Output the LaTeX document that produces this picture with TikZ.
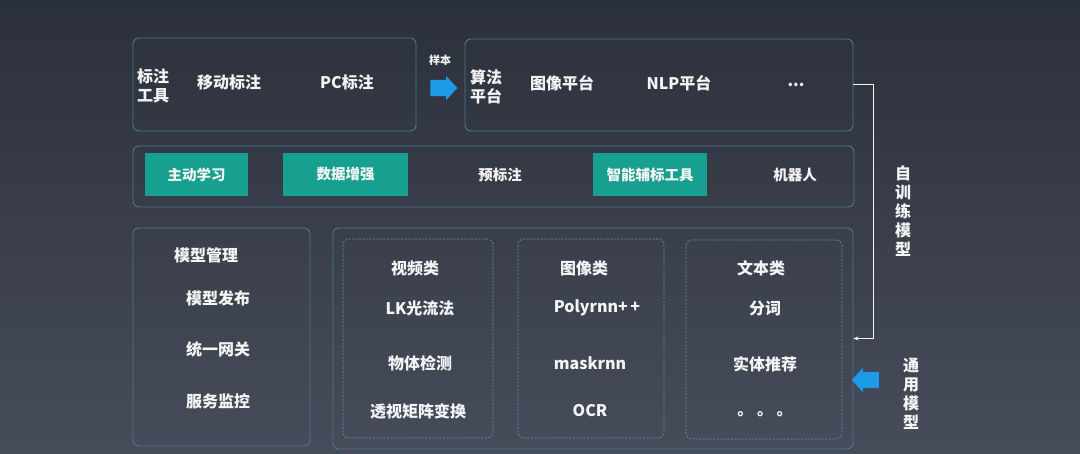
\documentclass[tikz,border=0pt]{standalone}
\usepackage{fontspec}
\setmainfont{Noto Sans CJK SC}
\usetikzlibrary{arrows.meta,positioning,shapes.arrows}
\definecolor{bgtop}{HTML}{2B313B}
\definecolor{bgbot}{HTML}{474C5A}
\definecolor{frame}{HTML}{4F7598}
\definecolor{dashframe}{HTML}{6F8DAA}
\definecolor{tealfill}{HTML}{17A08F}
\definecolor{arrowblue}{HTML}{1D9BE6}
\definecolor{label}{HTML}{F4F4F4}
\tikzset{
  panel/.style={
    rectangle,
    rounded corners=6pt,
    draw=frame,
    line width=0.9pt
  },
  subpanel/.style={
    rectangle,
    rounded corners=6pt,
    draw=dashframe,
    dashed,
    dash pattern=on 2pt off 1.5pt,
    line width=0.6pt
  },
  tagbox/.style={
    rectangle,
    fill=tealfill,
    minimum height=43pt,
    text=label,
    font=\bfseries\fontsize{14.5}{16}\selectfont
  },
  item/.style={
    text=label,
    font=\bfseries\fontsize{16}{18}\selectfont,
    inner sep=0pt
  },
  stack/.style={
    item,
    align=center,
    font=\bfseries\fontsize{16}{19}\selectfont
  },
  fatarrow/.style={
    single arrow,
    fill=arrowblue,
    minimum height=27pt,
    minimum width=23pt,
    single arrow head extend=4pt,
    single arrow tip angle=95,
    inner sep=8pt
  },
  feedline/.style={-{Stealth[length=5pt,width=4pt]},draw=label,line width=1pt}
}
\begin{document}
\begin{tikzpicture}[x=1pt,y=-1pt]
  \useasboundingbox (0,0) rectangle (1080,454);
  \shade[top color=bgtop,bottom color=bgbot] (0,0) rectangle (1080,454);

  \node[panel, minimum width=283pt, minimum height=93pt] (tools) at (274.5,84.5) {};
  \node[stack] (toolstitle) at (153,86) {标注\\工具};
  \node[item] (mobile) at (229,82) {移动标注};
  \node[item] (pc) at (347,82) {PC标注};

  \node[fatarrow] (samplearrow) at (440,88) {};
  \node[item, font=\bfseries\fontsize{11}{13}\selectfont] (sample) at (440,60) {样本};

  \node[panel, minimum width=388pt, minimum height=92pt] (platform) at (659,85) {};
  \node[stack] (platformtitle) at (486,87) {算法\\平台};
  \node[item] (imageplat) at (562,83) {图像平台};
  \node[item] (nlpplat) at (679,83) {NLP平台};
  \node[item] (moreplat) at (796,85) {...};

  \node[panel, minimum width=721pt, minimum height=61pt] (assist) at (493.5,176.5) {};
  \node[tagbox, minimum width=103pt] (active) at (196.5,174.5) {主动学习};
  \node[tagbox, minimum width=125pt] (augment) at (345.5,174.5) {数据增强};
  \node[item, font=\bfseries\fontsize{14.5}{16}\selectfont] (prelabel) at (500,175) {预标注};
  \node[tagbox, minimum width=114pt] (smarttool) at (650,174.5) {智能辅标工具};
  \node[item, font=\bfseries\fontsize{14.5}{16}\selectfont] (robot) at (795,175) {机器人};

  \node[panel, minimum width=177pt, minimum height=218pt] (manage) at (221.5,337) {};
  \node[item] (managetitle) at (206,255) {模型管理};
  \node[item] (publish) at (218,298) {模型发布};
  \node[item] (gateway) at (218,349) {统一网关};
  \node[item] (monitor) at (218,401) {服务监控};

  \node[panel, minimum width=520pt, minimum height=221pt] (library) at (593,338.5) {};
  \node[subpanel, minimum width=150pt, minimum height=199pt] (video) at (418,338.5) {};
  \node[subpanel, minimum width=146pt, minimum height=199pt] (image) at (591,338.5) {};
  \node[subpanel, minimum width=156pt, minimum height=199pt] (text) at (764,339.5) {};

  \node[item] (videotitle) at (415,268) {视频类};
  \node[item] (lk) at (420,308) {LK光流法};
  \node[item] (detect) at (420,363) {物体检测};
  \node[item] (warp) at (418,411) {透视矩阵变换};

  \node[item] (imagetitle) at (584,268) {图像类};
  \node[item] (polyrnn) at (597,308) {Polyrnn+\,+};
  \node[item] (maskrnn) at (590,363) {maskrnn};
  \node[item] (ocr) at (590,411) {OCR};

  \node[item] (texttitle) at (761,268) {文本类};
  \node[item] (segment) at (765,309) {分词};
  \node[item] (entity) at (765,364) {实体推荐};
  \node[item] (moretext) at (765,414) {。 。 。};

  \node[stack] (selftrain) at (903,211) {自\\训\\练\\模\\型};
  \node[stack] (general) at (911,394) {通\\用\\模\\型};
  \node[fatarrow, shape border rotate=180] (generalarrow) at (869,380) {};

  \draw[feedline] (platform.east) -- ++(20,0) |- (library.east);
\end{tikzpicture}
\end{document}
